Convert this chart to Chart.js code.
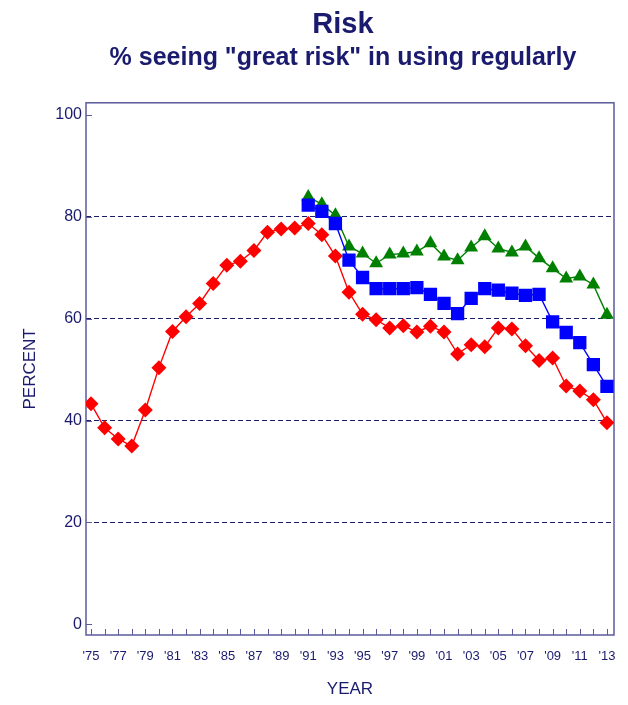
<!DOCTYPE html>
<html>
<head>
<meta charset="utf-8">
<script src="https://cdn.jsdelivr.net/npm/chart.js@4"></script>
<style>
  body { margin: 0; background: #ffffff; }
  #wrap { width: 628px; height: 705px; }
</style>
</head>
<body>
<div id="wrap"><canvas id="riskChart" width="628" height="705"></canvas></div>
<script>
// survey years
const years = [1975, 1976, 1977, 1978, 1979, 1980, 1981, 1982, 1983, 1984,
    1985, 1986, 1987, 1988, 1989, 1990, 1991, 1992, 1993, 1994,
    1995, 1996, 1997, 1998, 1999, 2000, 2001, 2002, 2003, 2004,
    2005, 2006, 2007, 2008, 2009, 2010, 2011, 2012, 2013];

// 12th grade, 1975-2013
const redValues = [43.3, 38.6, 36.4, 35.0, 42.1, 50.4, 57.5, 60.4, 63.0, 66.9,
    70.5, 71.3, 73.4, 77.0, 77.6, 77.8, 78.7, 76.5, 72.3, 65.2,
    60.9, 59.8, 58.2, 58.6, 57.4, 58.5, 57.4, 53.1, 54.9, 54.5,
    58.2, 58.0, 54.7, 51.8, 52.3, 46.8, 45.8, 44.1, 39.6];

// 8th and 10th grade start in 1991
const lateYears = [1991, 1992, 1993, 1994, 1995, 1996, 1997, 1998, 1999, 2000,
    2001, 2002, 2003, 2004, 2005, 2006, 2007, 2008, 2009, 2010,
    2011, 2012, 2013];
const blueValues = [82.3, 81.1, 78.7, 71.5, 68.1, 65.9, 65.9, 65.9, 66.1, 64.8,
    63.0, 61.0, 64.0, 65.9, 65.6, 65.0, 64.6, 64.8, 59.4, 57.3,
    55.3, 51.0, 46.7];
const greenValues = [83.9, 82.5, 80.3, 74.2, 72.8, 70.9, 72.6, 72.8, 73.2, 74.8,
    72.2, 71.5, 74.0, 76.2, 73.8, 73.0, 74.2, 71.9, 69.9, 67.9,
    68.3, 66.7, 60.8];

const yTicks = [0, 20, 40, 60, 80, 100];
const xTickYears = [1975, 1977, 1979, 1981, 1983, 1985, 1987, 1989, 1991, 1993,
    1995, 1997, 1999, 2001, 2003, 2005, 2007, 2009, 2011, 2013];
const xTickLabels = ["'75", "'77", "'79", "'81", "'83", "'85", "'87", "'89", "'91", "'93",
    "'95", "'97", "'99", "'01", "'03", "'05", "'07", "'09", "'11", "'13"];

const navy = '#1a1a6e';
const frameColor = '#5a5a9c';
const fontFamily = 'Liberation Sans, Arial, sans-serif';

function toPoints(xs, ys) {
    return xs.map((x, i) => ({ x: x, y: ys[i] }));
}

// frame box plus small inward tick marks
const frameTicks = {
    id: 'frameTicks',
    beforeDatasetsDraw(chart) {
        const ctx = chart.ctx;
        const area = chart.chartArea;
        const xs = chart.scales.x;
        const ys = chart.scales.y;
        ctx.save();
        ctx.strokeStyle = frameColor;
        ctx.lineWidth = 1;
        ctx.beginPath();
        years.forEach(yr => {
            const px = Math.round(xs.getPixelForValue(yr)) + 0.5;
            ctx.moveTo(px, area.bottom);
            ctx.lineTo(px, area.bottom - 6);
        });
        yTicks.forEach(v => {
            const py = Math.round(ys.getPixelForValue(v)) + 0.5;
            ctx.moveTo(area.left, py);
            ctx.lineTo(area.left + 6, py);
        });
        ctx.stroke();
        ctx.lineWidth = 1.5;
        ctx.strokeRect(area.left, area.top, area.right - area.left, area.bottom - area.top);
        ctx.restore();
    }
};

const ctx = document.getElementById('riskChart').getContext('2d');
new Chart(ctx, {
    type: 'line',
    data: {
        datasets: [
            {
                label: '12th grade',
                data: toPoints(years, redValues),
                borderColor: '#ff0000',
                backgroundColor: '#ff0000',
                borderWidth: 1.4,
                pointStyle: 'rectRot',
                pointRadius: 7.5,
                pointBorderWidth: 0
            },
            {
                label: '10th grade',
                data: toPoints(lateYears, blueValues),
                borderColor: '#0000ff',
                backgroundColor: '#0000ff',
                borderWidth: 1.4,
                pointStyle: 'rect',
                pointRadius: 9.4,
                pointBorderWidth: 0
            },
            {
                label: '8th grade',
                data: toPoints(lateYears, greenValues),
                borderColor: '#008000',
                backgroundColor: '#008000',
                borderWidth: 1.4,
                pointStyle: 'triangle',
                pointRadius: 8,
                pointBorderWidth: 0
            }
        ]
    },
    options: {
        responsive: false,
        animation: false,
        // uneven padding + an empty right axis keep the titles centred over the plot
        layout: { padding: { left: 50, right: -8, top: 0, bottom: 0 } },
        plugins: {
            legend: { display: false },
            tooltip: { enabled: false },
            title: {
                display: true,
                text: 'Risk',
                color: navy,
                font: { family: fontFamily, size: 29, weight: 'bold' },
                padding: { top: 8, bottom: 0 }
            },
            subtitle: {
                display: true,
                text: '% seeing "great risk" in using regularly',
                color: navy,
                font: { family: fontFamily, size: 25, weight: 'bold' },
                padding: { top: 0, bottom: 30 }
            }
        },
        scales: {
            x: {
                type: 'linear',
                min: 1974.63,
                max: 2013.52,
                afterBuildTicks: (scale) => { scale.ticks = xTickYears.map(v => ({ value: v })); },
                afterFit: (scale) => { scale.height = 70; },
                ticks: {
                    color: navy,
                    padding: 6,
                    maxRotation: 0,
                    autoSkip: false,
                    font: { family: fontFamily, size: 13 },
                    callback: (value) => xTickLabels[xTickYears.indexOf(value)]
                },
                grid: { display: false },
                border: { display: false },
                title: {
                    display: true,
                    text: 'YEAR',
                    color: navy,
                    font: { family: fontFamily, size: 17 },
                    padding: { top: 0, bottom: 5 }
                }
            },
            y: {
                min: -2.1,
                max: 102.4,
                afterBuildTicks: (scale) => { scale.ticks = yTicks.map(v => ({ value: v })); },
                afterFit: (scale) => { scale.width = 36; },
                ticks: {
                    color: navy,
                    padding: 4,
                    font: { family: fontFamily, size: 16 }
                },
                grid: {
                    drawTicks: false,
                    lineWidth: 1,
                    color: (c) => (c.tick && (c.tick.value === 0 || c.tick.value === 100)) ? 'rgba(0,0,0,0)' : navy
                },
                border: { display: false, dash: [5, 3] },
                title: {
                    display: true,
                    text: 'PERCENT',
                    color: navy,
                    font: { family: fontFamily, size: 17 },
                    padding: { top: -30, bottom: 0 }
                }
            },
            yRight: {
                position: 'right',
                afterFit: (scale) => { scale.width = 22; },
                ticks: { display: false },
                grid: { display: false },
                border: { display: false }
            }
        }
    },
    plugins: [frameTicks]
});
</script>
</body>
</html>
